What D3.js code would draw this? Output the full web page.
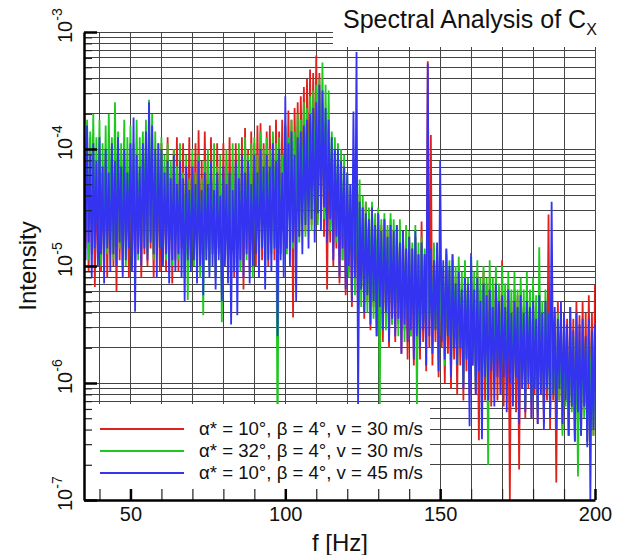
<!DOCTYPE html>
<html>
<head>
<meta charset="utf-8">
<script src="https://cdn.jsdelivr.net/npm/d3@7"></script>
<style>
  body { margin: 0; background: #fff; }
  svg { font-family: 'Liberation Sans', Arial, Helvetica, sans-serif; }
</style>
</head>
<body>
<div id="chart"></div>
<script>
// spectrum bins: 35 Hz .. 200 Hz every 0.5 Hz, values are log10(intensity)
const fStart = 35, fEnd = 200, fStep = 0.5;

const redLog = [
  -3.95,-4.85, -4.15,-5.05, -3.90,-4.90, -4.10,-5.18, -4.20,-4.95, // 35
  -4.00,-5.05, -4.20,-4.85, -4.05,-5.10, -4.25,-4.90, -4.05,-5.00, // 40
  -4.15,-5.22, -4.00,-4.95, -4.25,-5.05, -4.05,-4.85, -4.30,-5.10, // 45
  -4.00,-4.90, -4.20,-5.05, -4.10,-4.85, -4.25,-5.10, -4.05,-4.90, // 50
  -4.15,-5.00, -3.95,-4.85, -4.20,-5.10, -4.00,-4.90, -4.15,-5.05, // 55
  -3.95,-4.85, -4.15,-5.05, -3.90,-4.90, -4.15,-5.15, -4.00,-4.95, // 60
  -3.90,-5.05, -4.10,-4.85, -3.95,-5.10, -4.15,-4.90, -3.90,-5.00, // 65
  -4.10,-4.85, -3.95,-5.05, -3.84,-4.90, -4.10,-5.10, -3.85,-4.85, // 70
  -4.05,-5.00, -3.90,-4.90, -4.15,-5.10, -3.95,-4.85, -4.20,-5.05, // 75
  -3.95,-4.90, -4.10,-5.05, -3.90,-4.80, -4.15,-5.10, -3.95,-4.85, // 80
  -4.05,-5.00, -3.90,-5.20, -3.82,-4.85, -4.00,-5.05, -3.85,-4.80, // 85
  -3.95,-5.00, -3.80,-4.75, -3.78,-4.95, -3.95,-4.70, -3.85,-5.00, // 90
  -3.80,-4.70, -3.90,-4.95, -3.75,-4.65, -3.85,-4.90, -3.75,-4.60, // 95
  -3.80,-4.85, -3.67,-4.55, -3.75,-5.44, -3.65,-4.55, -3.60,-4.75, // 100
  -3.55,-4.45, -3.47,-4.70, -3.40,-4.40, -3.32,-4.65, -3.35,-4.35, // 105
  -3.20,-4.60, -3.35,-4.45, -3.60,-4.75, -3.80,-5.20, -3.95,-4.80, // 110
  -4.05,-5.00, -4.15,-4.85, -4.10,-5.15, -4.20,-4.95, -4.25,-5.25, // 115
  -4.30,-5.05, -4.40,-5.35, -4.35,-5.15, -4.45,-5.45, -4.40,-5.20, // 120
  -4.50,-5.45, -4.45,-5.30, -4.55,-5.55, -4.50,-5.35, -4.60,-5.60, // 125
  -4.55,-5.40, -4.65,-5.65, -4.60,-5.45, -4.70,-5.70, -4.60,-5.50, // 130
  -4.70,-5.65, -4.65,-5.50, -4.80,-5.75, -4.70,-5.55, -4.80,-5.80, // 135
  -4.75,-5.60, -4.85,-5.85, -4.75,-5.60, -4.90,-5.80, -4.62,-5.65, // 140
  -4.90,-5.90, -3.25,-5.70, -3.88,-5.85, -4.95,-5.65, -4.85,-5.95, // 145
  -4.95,-5.70, -5.05,-6.00, -4.90,-5.75, -5.05,-6.05, -4.95,-5.80, // 150
  -5.10,-6.10, -5.00,-5.85, -5.15,-6.15, -5.05,-5.90, -5.10,-6.10, // 155
  -5.00,-5.85, -5.15,-6.10, -5.05,-6.49, -5.20,-5.95, -5.05,-6.15, // 160
  -5.15,-5.90, -5.10,-6.20, -5.20,-5.95, -5.10,-6.15, -5.20,-6.00, // 165
  -4.95,-6.20, -5.25,-5.95, -5.15,-7.00, -5.30,-6.05, -5.20,-6.25, // 170
  -5.25,-6.74, -5.20,-6.05, -5.35,-6.30, -5.20,-6.05, -5.35,-6.30, // 175
  -5.25,-6.10, -5.40,-6.35, -5.25,-6.10, -5.40,-6.35, -5.30,-6.15, // 180
  -4.56,-6.40, -5.35,-6.15, -5.40,-6.85, -5.30,-6.15, -5.45,-6.40, // 185
  -5.40,-6.15, -5.45,-6.45, -5.35,-6.20, -5.45,-6.50, -5.30,-6.25, // 190
  -5.42,-6.45, -5.30,-6.20, -5.40,-6.50, -5.25,-6.30, -5.40,-6.45, // 195
  -5.16
];

const greenLog = [
  -3.60,-4.70, -3.75,-4.95, -3.85,-4.65, -3.70,-4.85, -3.90,-4.70, // 35
  -3.75,-5.00, -3.95,-4.75, -3.80,-4.90, -3.70,-4.65, -3.90,-4.95, // 40
  -3.60,-4.70, -3.85,-4.85, -3.95,-4.65, -3.75,-5.00, -3.90,-4.75, // 45
  -3.80,-4.90, -3.95,-4.70, -3.75,-4.95, -3.90,-4.80, -3.85,-4.65, // 50
  -3.75,-4.90, -3.58,-4.70, -3.70,-4.95, -3.85,-4.75, -3.95,-4.85, // 55
  -3.90,-4.70, -4.05,-4.95, -3.95,-4.75, -4.10,-5.00, -4.00,-4.80, // 60
  -4.15,-4.95, -3.95,-4.75, -4.20,-5.05, -4.05,-5.29, -4.25,-4.90, // 65
  -4.00,-5.00, -4.20,-4.85, -4.05,-5.10, -4.25,-5.42, -4.10,-4.95, // 70
  -4.00,-5.05, -4.20,-4.85, -3.95,-5.10, -4.15,-4.90, -4.05,-5.48, // 75
  -4.25,-4.95, -4.00,-5.05, -4.20,-4.80, -3.95,-5.00, -4.15,-4.85, // 80
  -3.95,-5.05, -4.10,-4.80, -3.90,-4.95, -4.05,-4.75, -3.95,-5.10, // 85
  -3.90,-4.80, -4.05,-4.95, -3.85,-4.75, -4.00,-5.00, -3.90,-4.80, // 90
  -4.00,-4.90, -3.85,-4.70, -3.95,-6.60, -3.90,-4.85, -4.05,-4.70, // 95
  -3.80,-4.90, -3.90,-4.65, -3.75,-4.85, -3.85,-4.60, -3.70,-4.80, // 100
  -3.75,-4.55, -3.60,-4.75, -3.65,-4.50, -3.55,-4.70, -3.50,-4.45, // 105
  -3.45,-4.65, -3.40,-4.40, -3.26,-4.60, -3.45,-4.40, -3.50,-4.70, // 110
  -3.85,-4.55, -3.90,-4.80, -3.95,-4.65, -4.00,-4.95, -4.05,-4.80, // 115
  -4.20,-5.10, -4.30,-4.95, -4.25,-5.25, -4.35,-5.05, -4.26,-5.35, // 120
  -4.40,-5.15, -4.45,-5.40, -4.50,-5.20, -4.45,-5.45, -4.55,-5.25, // 125
  -4.50,-6.20, -4.60,-5.30, -4.55,-5.55, -4.65,-5.35, -4.55,-5.50, // 130
  -4.60,-5.35, -4.70,-5.60, -4.60,-5.40, -4.75,-5.65, -4.65,-5.45, // 135
  -4.70,-5.60, -4.80,-5.40, -4.65,-6.20, -4.80,-5.70, -4.75,-5.50, // 140
  -4.85,-5.70, -4.75,-5.45, -4.90,-5.75, -4.80,-5.55, -4.85,-5.80, // 145
  -4.90,-5.60, -5.00,-5.85, -4.86,-5.60, -4.95,-5.90, -4.90,-5.65, // 150
  -5.00,-5.85, -4.92,-5.70, -5.05,-6.00, -4.95,-5.75, -5.10,-5.95, // 155
  -4.92,-5.70, -5.05,-6.05, -4.95,-5.80, -5.10,-6.00, -5.00,-5.75, // 160
  -5.10,-6.70, -4.95,-5.85, -5.10,-6.05, -5.00,-5.80, -5.15,-6.10, // 165
  -5.00,-5.85, -5.15,-6.05, -5.05,-5.80, -5.20,-6.15, -5.05,-5.90, // 170
  -5.20,-6.10, -5.10,-5.85, -5.20,-6.20, -5.05,-5.95, -5.20,-6.15, // 175
  -5.10,-5.95, -5.25,-6.25, -4.84,-6.00, -5.30,-6.20, -5.20,-6.05, // 180
  -5.40,-6.30, -5.45,-6.10, -5.50,-6.40, -5.40,-6.15, -5.55,-6.45, // 185
  -5.45,-6.20, -5.60,-6.45, -5.50,-6.25, -5.60,-6.50, -5.50,-6.80, // 190
  -5.65,-6.45, -5.55,-6.30, -5.65,-6.50, -5.50,-6.25, -5.60,-6.45, // 195
  -5.55
];

const blueLog = [
  -3.85,-4.95, -3.80,-4.80, -4.05,-5.10, -3.95,-4.85, -4.10,-5.00, // 35
  -3.90,-4.90, -4.15,-5.15, -4.00,-4.85, -4.20,-5.05, -3.95,-4.90, // 40
  -4.10,-5.00, -3.90,-4.80, -4.15,-5.10, -4.00,-4.95, -4.20,-4.85, // 45
  -3.95,-5.05, -3.73,-5.39, -4.05,-4.90, -4.15,-5.00, -3.95,-4.85, // 50
  -3.85,-4.95, -3.60,-4.80, -3.80,-4.90, -4.00,-5.10, -3.95,-4.85, // 55
  -4.00,-5.00, -4.20,-4.90, -4.10,-5.15, -4.25,-4.95, -4.05,-5.05, // 60
  -4.30,-4.90, -4.10,-5.10, -4.25,-5.30, -4.15,-4.95, -4.35,-5.05, // 65
  -4.15,-4.95, -4.30,-5.15, -4.10,-5.00, -4.35,-5.25, -4.20,-4.95, // 70
  -4.30,-5.10, -4.10,-5.00, -4.35,-5.20, -4.20,-4.95, -4.40,-5.30, // 75
  -4.15,-5.00, -4.30,-5.15, -4.20,-5.50, -4.35,-5.05, -4.10,-5.42, // 80
  -4.25,-4.95, -4.05,-5.10, -4.20,-4.90, -4.10,-5.15, -4.30,-5.00, // 85
  -4.05,-4.90, -4.20,-5.10, -4.00,-4.85, -4.15,-5.20, -4.05,-4.95, // 90
  -4.15,-5.05, -3.95,-4.85, -4.10,-5.60, -4.00,-4.95, -4.20,-5.10, // 95
  -3.55,-4.85, -3.95,-5.00, -3.85,-4.80, -4.05,-5.30, -3.90,-4.75, // 100
  -3.85,-4.90, -3.80,-4.65, -3.75,-4.85, -3.70,-4.60, -3.65,-4.80, // 105
  -3.60,-4.55, -3.45,-4.70, -3.50,-4.50, -3.65,-4.80, -3.75,-4.60, // 110
  -3.90,-4.95, -4.00,-4.75, -4.00,-5.10, -4.10,-4.85, -4.15,-5.20, // 115
  -4.20,-5.00, -4.30,-5.30, -3.68,-5.10, -3.17,-6.20, -4.45,-5.20, // 120
  -4.50,-5.40, -4.55,-5.25, -4.60,-5.50, -4.50,-5.30, -4.65,-5.60, // 125
  -4.55,-5.35, -4.70,-5.55, -4.60,-5.40, -4.75,-5.65, -4.65,-5.45, // 130
  -4.70,-5.60, -4.65,-5.45, -4.80,-5.75, -4.70,-5.50, -4.85,-5.65, // 135
  -4.75,-5.55, -4.85,-5.80, -4.70,-5.60, -4.90,-5.70, -4.80,-5.55, // 140
  -4.90,-5.85, -3.27,-5.60, -4.85,-5.75, -4.95,-5.55, -4.80,-5.90, // 145
  -4.10,-5.65, -4.95,-5.80, -4.85,-5.60, -5.00,-5.95, -4.90,-5.70, // 150
  -5.15,-5.85, -5.05,-5.70, -5.20,-6.05, -5.10,-5.80, -5.15,-6.37, // 155
  -4.89,-5.85, -5.20,-6.10, -5.10,-5.90, -5.30,-6.48, -5.15,-5.95, // 160
  -5.25,-6.15, -5.20,-5.90, -5.35,-6.20, -5.15,-5.95, -5.30,-6.10, // 165
  -5.25,-5.95, -5.35,-6.25, -5.20,-6.00, -5.40,-6.20, -5.30,-5.95, // 170
  -5.35,-6.35, -5.25,-6.05, -5.40,-6.25, -5.30,-6.00, -5.35,-6.30, // 175
  -5.30,-6.05, -5.45,-6.35, -5.25,-6.10, -5.40,-6.40, -5.30,-6.05, // 180
  -5.40,-6.30, -4.45,-6.10, -5.35,-6.40, -5.45,-6.05, -5.30,-6.35, // 185
  -5.40,-6.15, -5.50,-6.45, -5.35,-6.20, -5.55,-6.50, -5.40,-6.25, // 190
  -5.50,-6.45, -5.45,-6.20, -5.60,-6.55, -5.45,-7.00, -5.55,-6.40, // 195
  -5.50
];

const seriesNames = ['α* = 10°, β = 4°, v = 30 m/s', 'α* = 32°, β = 4°, v = 30 m/s', 'α* = 10°, β = 4°, v = 45 m/s'];
const seriesColors = ['#e0201c', '#1ec81e', '#3434f0'];

const xMajor = [50, 100, 150, 200];
const xMinor = [40, 60, 70, 80, 90, 110, 120, 130, 140, 160, 170, 180, 190];
const yDecades = [-7, -6, -5, -4, -3];

const width = 621, height = 555;
const margin = { top: 32, right: 26, bottom: 55, left: 84 };

const svg = d3.select('#chart').append('svg').attr('width', width).attr('height', height);

const freqs = d3.range(fStart, fEnd + fStep / 2, fStep);

const xScale = d3.scaleLinear().domain([fStart, fEnd]).range([margin.left, width - margin.right]);
const yScale = d3.scaleLog().domain([1e-7, 1e-3]).range([height - margin.bottom, margin.top]);

const x0 = xScale.range()[0], x1 = xScale.range()[1];
const y0 = yScale.range()[0], y1 = yScale.range()[1];

// grid
const grid = svg.append('g').attr('stroke', '#444').attr('stroke-width', 1).attr('shape-rendering', 'crispEdges');
grid.selectAll('.vg').data(xMajor.concat(xMinor)).enter().append('line')
  .attr('x1', d => xScale(d)).attr('x2', d => xScale(d)).attr('y1', y1).attr('y2', y0);
grid.selectAll('.hg').data(yScale.ticks()).enter().append('line')
  .attr('x1', x0).attr('x2', x1).attr('y1', d => yScale(d)).attr('y2', d => yScale(d));

// spectra
svg.append('clipPath').attr('id', 'plotClip').append('rect')
  .attr('x', x0).attr('y', y1).attr('width', x1 - x0).attr('height', y0 - y1);

const line = d3.line().x((d, i) => xScale(freqs[i])).y(d => yScale(Math.pow(10, d)));

const plot = svg.append('g').attr('clip-path', 'url(#plotClip)');
[redLog, greenLog, blueLog].forEach((s, i) => {
  plot.append('path').datum(s)
    .attr('d', line)
    .attr('fill', 'none')
    .attr('stroke', seriesColors[i])
    .attr('stroke-width', 1.8)
    .attr('stroke-linejoin', 'bevel');
});

// title box
svg.append('rect').attr('x', 333).attr('y', 0).attr('width', width - 333).attr('height', 47).attr('fill', '#fff');
const title = svg.append('text').attr('x', 343).attr('y', 28).style('font-size', '25px').attr('fill', '#111');
title.append('tspan').text('Spectral Analysis of C');
title.append('tspan').attr('dy', 7).style('font-size', '16px').text('X');

// legend box
svg.append('rect').attr('x', x0 + 1).attr('y', 404).attr('width', 430 - x0 - 1).attr('height', y0 - 404).attr('fill', '#fff');
const legend = svg.append('g');
seriesNames.forEach((name, i) => {
  const ly = 429 + i * 22;
  legend.append('line').attr('x1', 100).attr('x2', 184).attr('y1', ly).attr('y2', ly)
    .attr('stroke', seriesColors[i]).attr('stroke-width', 2);
  legend.append('text').attr('x', 199).attr('y', ly + 6).style('font-size', '18.6px').attr('fill', '#111').text(name);
});

// axes
const leftMajor = d3.axisLeft(yScale).tickValues(yDecades.map(k => Math.pow(10, k))).tickSize(-13).tickSizeOuter(0).tickFormat('');
const leftMinor = d3.axisLeft(yScale).tickValues(yScale.ticks().filter(v => !yDecades.includes(Math.round(Math.log10(v) * 1000) / 1000))).tickSize(-8).tickSizeOuter(0).tickFormat('');

svg.append('g').attr('transform', `translate(${x0},0)`).call(leftMinor)
  .call(g => g.select('.domain').remove())
  .selectAll('line').attr('stroke', '#222').attr('stroke-width', 1.2);
svg.append('g').attr('transform', `translate(${x0},0)`).call(leftMajor)
  .call(g => g.select('.domain').attr('stroke', '#000').attr('stroke-width', 2.5))
  .selectAll('line').attr('stroke', '#000').attr('stroke-width', 2.5);

const bottomMinor = d3.axisBottom(xScale).tickValues(xMinor).tickSize(-11).tickSizeOuter(0).tickFormat('');
const bottomMajor = d3.axisBottom(xScale).tickValues(xMajor).tickSize(-11).tickSizeOuter(0).tickPadding(7);

svg.append('g').attr('transform', `translate(0,${y0})`).call(bottomMinor)
  .call(g => g.select('.domain').remove())
  .selectAll('line').attr('stroke', '#222').attr('stroke-width', 1.2);
const bx = svg.append('g').attr('transform', `translate(0,${y0})`).call(bottomMajor);
bx.select('.domain').attr('stroke', '#000').attr('stroke-width', 2.5);
bx.selectAll('line').attr('stroke', '#000').attr('stroke-width', 2.5);
bx.selectAll('text').style('font-size', '20px').style('font-family', "'Liberation Sans', Arial, sans-serif").attr('fill', '#111');

// y tick labels: 10^k, rotated
yDecades.forEach(k => {
  const g = svg.append('g').attr('transform', `translate(72,${yScale(Math.pow(10, k))}) rotate(-90)`);
  const t = g.append('text').attr('x', -11).attr('y', 0).style('font-size', '20px').attr('fill', '#111');
  t.append('tspan').text('10');
  t.append('tspan').attr('dy', -10).style('font-size', '14px').text(String(k));
});

// axis titles
svg.append('text').attr('x', 340).attr('y', 551).attr('text-anchor', 'middle').style('font-size', '24px').attr('fill', '#111').text('f [Hz]');
svg.append('text').attr('transform', 'translate(36,266) rotate(-90)').attr('text-anchor', 'middle').style('font-size', '24px').attr('fill', '#111').text('Intensity');
</script>
</body>
</html>
